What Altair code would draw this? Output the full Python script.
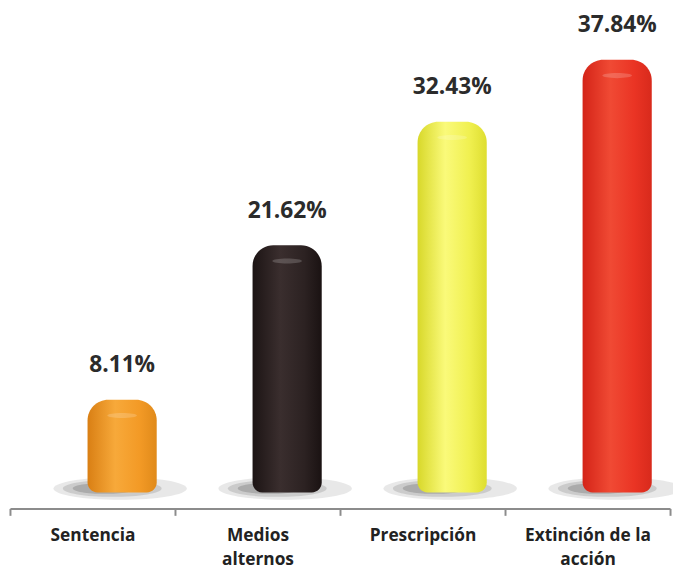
import altair as alt
import pandas as pd

categories = ["Sentencia", "Medios alternos", "Prescripción", "Extinción de la acción"]
values = [8.11, 21.62, 32.43, 37.84]
labels = ["8.11%", "21.62%", "32.43%", "37.84%"]
gradients = [
    ["#d97f14", "#f7a93a", "#f39a26", "#e08a1a"],
    ["#1c1414", "#3a2e2e", "#2c2222", "#1a1212"],
    ["#d8d82a", "#fafa7a", "#f0f050", "#dede30"],
    ["#d42418", "#f04a34", "#ea3424", "#d82a1c"],
]

df = pd.DataFrame({"cat": categories, "val": values, "lab": labels, "zero": [0] * 4})

x = alt.X("cat:N", sort=categories,
          scale=alt.Scale(paddingInner=0, paddingOuter=0),
          axis=alt.Axis(title=None, labelAngle=0, tickBand="extent", domainColor="#8c8c8c",
                        domainWidth=2, tickColor="#8c8c8c", tickWidth=2, tickSize=7,
                        labelFont="Open Sans", labelFontWeight="bold", labelFontSize=17.5,
                        labelColor="#222222", labelPadding=11, labelLineHeight=25,
                        labelExpr="datum.label == 'Medios alternos' ? ['Medios', 'alternos'] : "
                                  "datum.label == 'Extinción de la acción' ? ['Extinción de la', 'acción'] : datum.label"))
yscale = alt.Scale(domain=[-1.4, 40], nice=False, zero=False)

base = alt.Chart(df)

ellipse = "M -1 0 A 1 0.17 0 1 1 1 0 A 1 0.17 0 1 1 -1 0 Z"
shadows = []
for w, op, off in [(135, 0.14, 28), (100, 0.2, 20), (64, 0.28, 12)]:
    shadows.append(base.mark_point(shape=ellipse, filled=True, color="#5a5a5a", opacity=op,
                                   size=w * w, xOffset=off, yOffset=-4, strokeWidth=0).encode(
        x=x, y=alt.Y("zero:Q", scale=yscale, axis=None)))

bars = []
for c, g in zip(categories, gradients):
    grad = alt.Gradient(gradient="linear", x1=0, x2=1, y1=0, y2=0,
                        stops=[alt.GradientStop(offset=0, color=g[0]),
                               alt.GradientStop(offset=0.4, color=g[1]),
                               alt.GradientStop(offset=0.75, color=g[2]),
                               alt.GradientStop(offset=1, color=g[3])])
    bars.append(base.transform_filter(alt.datum.cat == c).mark_bar(
        color=grad, width=70, xOffset=30, cornerRadiusTopLeft=21, cornerRadiusTopRight=21,
        cornerRadiusBottomLeft=10, cornerRadiusBottomRight=10).encode(
        x=x, y=alt.Y("val:Q", scale=yscale, axis=None), y2="zero:Q"))

highlight = base.mark_point(shape=ellipse, filled=True, color="#ffffff", opacity=0.18,
                            size=900, xOffset=30, yOffset=16, strokeWidth=0).encode(
    x=x, y=alt.Y("val:Q", scale=yscale, axis=None))

text = base.mark_text(font="Open Sans", fontWeight="bold", fontSize=23, color="#2b2b2b",
                      xOffset=30, dy=-35, baseline="middle").encode(
    x=x, y=alt.Y("val:Q", scale=yscale, axis=None), text="lab:N")

chart = alt.layer(*shadows, *bars, highlight, text).properties(
    width=668, height=479,
    autosize=alt.AutoSizeParams(type="none"),
    padding={"left": 2, "top": 24, "right": 3, "bottom": 70},
).configure_view(stroke=None)

chart.save("out.html", embed_options={"renderer": "svg", "actions": False})
